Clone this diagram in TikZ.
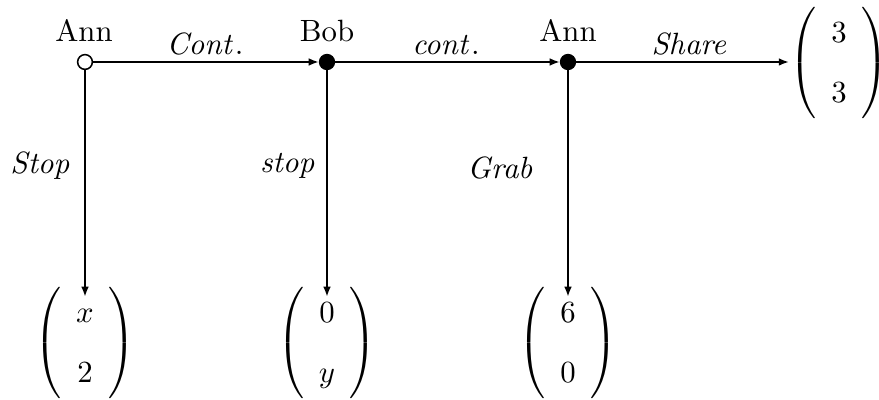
\documentclass[tikz,border=0pt]{standalone}
\usetikzlibrary{arrows.meta}
\newcommand{\payoff}[2]{{\delimiterfactor=1000 \delimitershortfall=0pt $\left(\begin{array}{@{\hspace{4.8pt}}c@{\hspace{4.8pt}}}\rule{0pt}{10.1pt}#1\\[7.4pt]#2\rule[-3.7pt]{0pt}{3.7pt}\end{array}\right)$}}
\begin{document}
\begin{tikzpicture}[x=0.325pt,y=-0.325pt,
  opendot/.style={circle,draw,fill=white,line width=0.5pt,minimum size=4.8pt,inner sep=0pt},
  fulldot/.style={circle,draw,fill=black,line width=0.5pt,minimum size=4.8pt,inner sep=0pt},
  vec/.style={inner sep=0pt},
  edge/.style={line width=0.6pt,-{Latex[length=3.3pt,width=2.5pt]}},
  lbl/.style={inner sep=0pt,anchor=base},
  vlbl/.style={inner sep=0pt,anchor=base east}]
\useasboundingbox (0,0) rectangle (879,400);
\node[opendot] (a1) at (85,62) {};
\node[fulldot] (b) at (327,62) {};
\node[fulldot] (a2) at (568,62) {};
\node[lbl] (la1) at (84,42) {Ann};
\node[lbl] (lb) at (327,42) {Bob};
\node[lbl] (la2) at (568,42) {Ann};
\node[vec] (v4) at (839,63) {\payoff{3}{3}};
\node[vec] (v1) at (85,343) {\payoff{x}{2}};
\node[vec] (v2) at (327,343) {\payoff{0}{y}};
\node[vec] (v3) at (568,343) {\payoff{6}{0}};
\node[lbl] (lc1) at (205,55) {$\mathit{Cont.}$};
\node[lbl] (lc2) at (446,55) {$\mathit{cont.}$};
\node[lbl] (ls) at (690,55) {$\mathit{Share}$};
\node[vlbl] (lst1) at (72,174) {$\mathit{Stop}$};
\node[vlbl] (lst2) at (317,173) {$\mathit{stop}$};
\node[vlbl] (lgr) at (535,179) {$\mathit{Grab}$};
\draw[edge] (a1) -- (b);
\draw[edge] (b) -- (a2);
\draw[edge] (a2) -- (v4.west |- a2);
\draw[edge,shorten >=-3.2pt] (a1) -- (v1.north);
\draw[edge,shorten >=-3.2pt] (b) -- (v2.north);
\draw[edge,shorten >=-3.2pt] (a2) -- (v3.north);
\end{tikzpicture}
\end{document}
